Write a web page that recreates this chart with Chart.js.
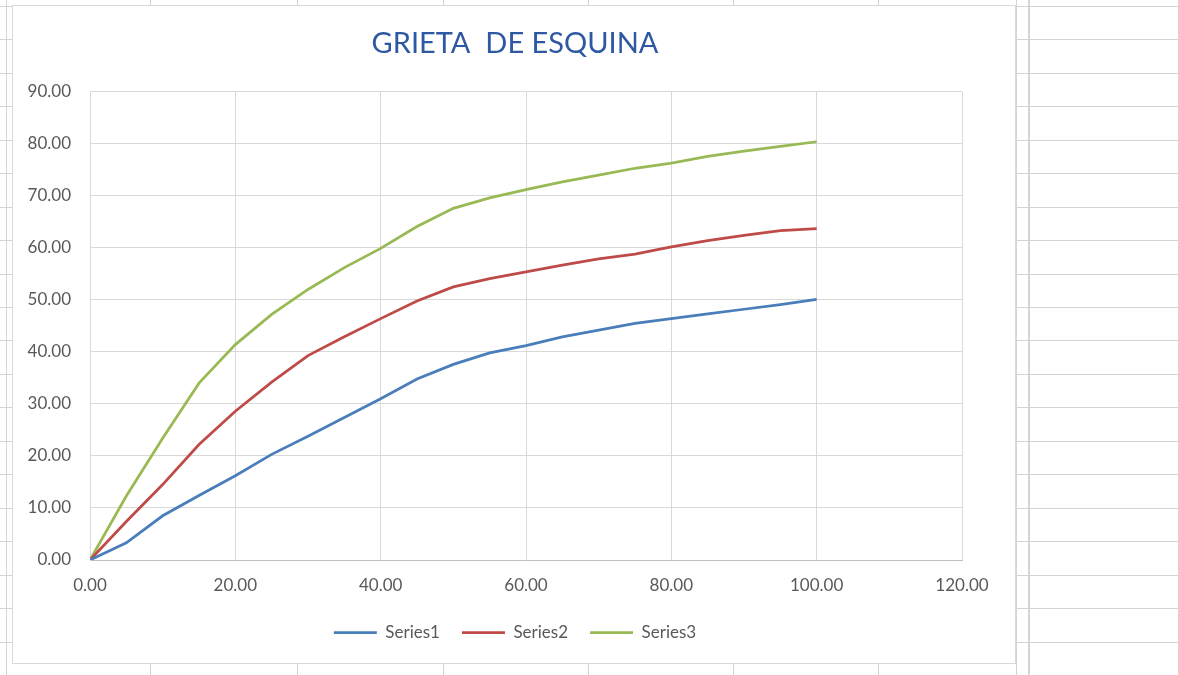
<!DOCTYPE html>
<html>
<head>
<meta charset="utf-8">
<title>GRIETA DE ESQUINA</title>
<script src="https://cdn.jsdelivr.net/npm/chart.js@4/dist/chart.umd.min.js"></script>
<style>
  html, body { margin: 0; padding: 0; background: #fff; }
  #wrap { width: 1178px; height: 675px; position: relative; }
</style>
</head>
<body>
<div id="wrap"><canvas id="chart"></canvas></div>
<script>
// x values (every 5 units) and the three curves
const xValues = [0, 5, 10, 15, 20, 25, 30, 35, 40, 45, 50, 55, 60, 65, 70, 75, 80, 85, 90, 95, 100];
const series1 = [0, 3.3, 8.5, 12.4, 16.2, 20.3, 23.8, 27.4, 31.0, 34.8, 37.6, 39.8, 41.2, 42.9, 44.2, 45.5, 46.4, 47.3, 48.2, 49.1, 50.1];
const series2 = [0, 7.4, 14.5, 22.2, 28.6, 34.2, 39.3, 42.9, 46.4, 49.8, 52.5, 54.1, 55.4, 56.7, 57.9, 58.8, 60.2, 61.4, 62.4, 63.3, 63.7];
const series3 = [0, 12.3, 23.4, 34.0, 41.4, 47.2, 52.0, 56.2, 59.9, 64.1, 67.6, 69.6, 71.2, 72.7, 74.0, 75.3, 76.3, 77.6, 78.6, 79.5, 80.4];
const seriesNames = ['Series1', 'Series2', 'Series3'];
const xTicks = [0, 20, 40, 60, 80, 100, 120];
const yTicks = [0, 10, 20, 30, 40, 50, 60, 70, 80, 90];

const toPoints = (ys) => xValues.map((x, i) => ({ x: x, y: ys[i] }));

// spreadsheet cells behind the chart object
const sheetBackground = {
  id: 'sheetBackground',
  beforeDraw(chart) {
    const ctx = chart.ctx;
    ctx.save();
    ctx.fillStyle = '#ffffff';
    ctx.fillRect(0, 0, chart.width, chart.height);
    ctx.strokeStyle = '#d4d4d4';
    ctx.lineWidth = 1;
    const cols = [6, 150, 297, 443, 588, 733, 878, 1016];
    cols.forEach(x => {
      ctx.beginPath();
      ctx.moveTo(x + 0.5, 0);
      ctx.lineTo(x + 0.5, chart.height);
      ctx.stroke();
    });
    for (let y = 6; y < chart.height + 2; y += 33.45) {
      ctx.beginPath();
      ctx.moveTo(0, Math.round(y) + 0.5);
      ctx.lineTo(chart.width, Math.round(y) + 0.5);
      ctx.stroke();
    }
    ctx.lineWidth = 2;
    ctx.beginPath();
    ctx.moveTo(1029, 0);
    ctx.lineTo(1029, chart.height);
    ctx.stroke();
    // chart object box
    ctx.fillStyle = '#ffffff';
    ctx.fillRect(12, 5, 1003, 658);
    ctx.lineWidth = 1;
    ctx.strokeStyle = '#d9d9d9';
    ctx.strokeRect(12.5, 5.5, 1003, 658);
    ctx.restore();
  }
};

const tickFont = { family: 'Lato', size: 17 };

new Chart(document.getElementById('chart'), {
  type: 'scatter',
  data: {
    datasets: [
      { label: seriesNames[0], data: toPoints(series1), borderColor: '#4a7ebb', backgroundColor: '#4a7ebb', borderWidth: 2.75 },
      { label: seriesNames[1], data: toPoints(series2), borderColor: '#be4b48', backgroundColor: '#be4b48', borderWidth: 2.75 },
      { label: seriesNames[2], data: toPoints(series3), borderColor: '#98b954', backgroundColor: '#98b954', borderWidth: 2.75 }
    ]
  },
  options: {
    responsive: true,
    maintainAspectRatio: false,
    animation: false,
    showLine: true,
    elements: {
      line: { tension: 0 },
      point: { radius: 0, hoverRadius: 0, pointStyle: 'line' }
    },
    layout: { padding: { top: 5, left: 12, right: 160, bottom: 24 } },
    scales: {
      x: {
        type: 'linear',
        min: 0,
        max: 120,
        afterBuildTicks: (s) => { s.ticks = xTicks.map(v => ({ value: v })); },
        afterFit: (s) => { s.height = 42; },
        grid: { color: '#d9d9d9', drawTicks: false },
        border: { color: '#bfbfbf' },
        ticks: { color: '#595959', font: tickFont, padding: 15, maxRotation: 0, callback: (v) => v.toFixed(2) }
      },
      y: {
        type: 'linear',
        min: 0,
        max: 90,
        afterBuildTicks: (s) => { s.ticks = yTicks.map(v => ({ value: v })); },
        afterFit: (s) => { s.width = 78; },
        grid: { color: '#d9d9d9', drawTicks: false },
        border: { color: '#d9d9d9' },
        ticks: { color: '#595959', font: tickFont, padding: 19, callback: (v) => v.toFixed(2) }
      },
      // empty spacer on the right so title and legend sit where Excel puts them
      spacer: {
        type: 'linear',
        position: 'right',
        min: 0,
        max: 1,
        afterFit: (s) => { s.width = 56; },
        grid: { display: false, drawTicks: false },
        border: { display: false },
        ticks: { display: false }
      }
    },
    plugins: {
      title: {
        display: true,
        text: 'GRIETA  DE ESQUINA',
        color: '#2e58a2',
        font: { family: 'Lato', size: 29, weight: 'normal' },
        padding: { top: 21, bottom: 31 }
      },
      legend: {
        position: 'bottom',
        labels: {
          usePointStyle: true,
          pointStyle: 'line',
          pointStyleWidth: 43,
          padding: 22,
          color: '#595959',
          font: tickFont
        }
      },
      tooltip: { enabled: false }
    }
  },
  plugins: [sheetBackground]
});
</script>
</body>
</html>
